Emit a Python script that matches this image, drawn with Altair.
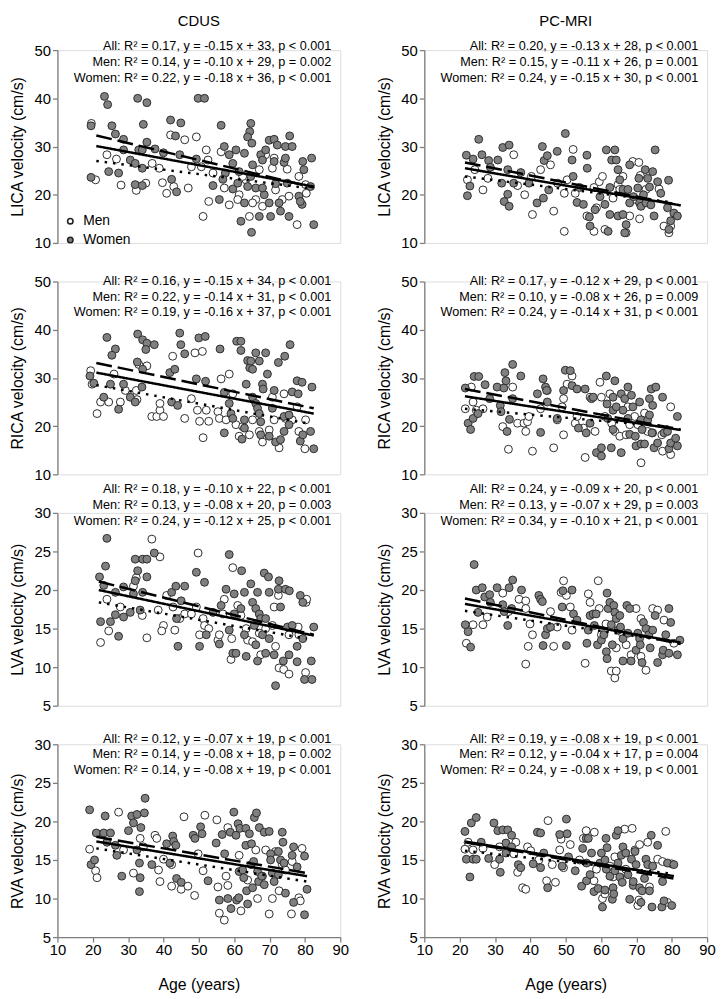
import altair as alt
import pandas as pd

FONT = "Liberation Sans"
W, H = 286, 195

AGE_TICKS = [10, 20, 30, 40, 50, 60, 70, 80, 90]
ICA_TICKS = [10, 20, 30, 40, 50]
VA_TICKS = [5, 10, 15, 20, 25, 30]

# ---------------- CDUS LICA ----------------
CDUS_LICA_MEN = [(19.6,34.8),(20.8,23.1),(24.0,28.3),(26.7,27.4),(28.0,22.0),(32.3,20.9),(35.0,22.4),(36.8,26.5),(38.8,25.5),(39.7,22.5),(40.9,20.3),(42.0,32.4),(42.9,21.7),(46.0,31.4),(47.9,25.8),(47.0,21.4),(49.3,32.0),(50.7,25.8),(51.2,15.5),(52.1,29.3),(52.6,27.2),(52.8,18.6),(54.0,24.5),(56.3,28.9),(57.2,21.4),(58.6,17.9),(61.4,20.0),(63.3,23.1),(64.3,15.5),(66.1,19.0),(68.0,17.6),(68.9,28.3),(70.8,25.5),(71.3,27.6),(73.6,19.0),(75.0,25.3),(75.5,19.7),(77.8,13.8),(80.2,22.1),(80.4,20.3),(78.3,23.8),(65.2,18.3),(67.1,25.2),(62.4,23.8),(71.7,21.0),(61.0,19.0)]
CDUS_LICA_WOMEN = [(19.5,34.3),(23.3,40.4),(24.2,38.7),(25.4,34.3),(26.4,32.6),(28.7,31.5),(28.7,29.3),(19.5,23.6),(24.5,24.8),(27.3,24.5),(30.6,27.2),(32.0,26.5),(32.7,40.0),(35.3,39.1),(34.3,34.6),(35.3,30.9),(33.0,29.3),(34.0,29.3),(32.0,22.1),(34.0,21.9),(34.0,25.5),(37.6,29.5),(40.0,28.7),(42.0,35.5),(43.4,32.2),(44.9,34.9),(44.6,28.3),(43.7,20.6),(42.3,23.2),(49.8,40.0),(51.6,40.0),(49.3,27.4),(54.0,21.9),(55.8,19.0),(56.3,34.4),(57.2,30.0),(57.5,24.5),(56.8,23.2),(58.6,28.3),(59.6,26.5),(60.5,29.3),(59.6,21.2),(61.0,22.4),(61.9,14.5),(62.9,18.3),(63.8,21.7),(64.7,34.8),(64.4,33.1),(63.8,32.0),(65.0,30.7),(65.2,26.2),(64.7,23.8),(64.9,12.2),(66.1,21.4),(67.1,15.5),(67.5,28.3),(68.0,27.2),(68.5,20.0),(69.9,31.3),(69.9,18.3),(70.3,15.5),(71.3,31.5),(71.3,26.9),(71.7,22.3),(72.2,30.3),(72.7,18.3),(73.1,16.6),(74.1,26.7),(74.5,30.0),(74.5,27.6),(75.0,22.4),(75.7,32.2),(76.4,30.0),(75.5,15.5),(78.3,19.7),(79.4,26.9),(79.7,25.2),(79.2,18.0),(81.6,21.7),(81.9,27.6),(82.5,13.8),(78.7,18.6),(68.9,29.3),(68.0,21.4),(62.9,28.6),(61.4,24.8)]
CDUS_LICA_FIT = [("All",21.0,30.1,82.5,21.7),("Men",21.0,27.0,80.6,21.4),("Women",21.0,32.3,82.5,21.5)]
CDUS_LICA_EQ = ["All: R² = 0.17, y = -0.15 x + 33, p < 0.001","Men: R² = 0.14, y = -0.10 x + 29, p = 0.002","Women: R² = 0.22, y = -0.18 x + 36, p < 0.001"]

# ---------------- CDUS RICA ----------------
CDUS_RICA_MEN = [(19.4,31.5),(19.8,28.7),(21.2,22.6),(22.2,25.0),(24.5,25.0),(26.0,30.8),(27.8,25.0),(29.2,27.4),(32.3,27.4),(32.5,25.5),(33.0,32.8),(35.3,32.5),(36.7,22.0),(38.1,22.0),(39.0,23.3),(40.0,22.0),(39.0,24.7),(42.6,34.5),(46.0,21.6),(47.9,25.7),(48.9,35.2),(51.0,35.5),(49.6,23.3),(50.2,21.0),(51.2,17.6),(52.1,23.3),(52.8,21.0),(55.4,23.0),(55.8,21.6),(56.3,29.8),(58.6,30.8),(59.6,26.7),(57.7,21.3),(60.5,20.3),(61.4,17.9),(62.4,19.9),(64.3,18.2),(65.2,21.3),(67.1,18.9),(68.0,16.7),(69.9,19.2),(70.8,26.0),(71.3,21.3),(72.7,15.5),(74.1,26.7),(76.4,21.3),(77.8,24.0),(78.3,18.9),(80.0,15.3),(80.2,21.3),(74.5,21.6)]
CDUS_RICA_WOMEN = [(24.0,38.4),(26.4,36.0),(25.4,34.7),(19.2,30.4),(20.3,28.9),(23.1,26.0),(25.0,28.7),(27.3,23.5),(28.7,28.7),(30.6,26.0),(32.0,25.0),(32.6,33.3),(32.7,39.1),(34.1,37.9),(35.3,37.2),(35.0,35.9),(33.9,28.1),(34.1,31.8),(37.4,36.9),(41.8,31.1),(43.2,31.8),(42.3,25.0),(44.0,24.3),(44.6,39.3),(44.9,36.9),(46.0,35.0),(50.0,38.3),(51.8,38.6),(49.3,29.8),(51.9,29.3),(56.0,36.0),(57.2,18.6),(57.2,27.0),(58.6,24.7),(59.1,22.6),(59.6,21.6),(60.7,37.6),(61.9,37.6),(61.9,35.7),(62.2,17.3),(62.9,21.3),(62.9,19.6),(63.8,33.6),(64.4,32.1),(64.7,33.5),(66.1,35.2),(67.1,33.5),(65.2,31.8),(63.4,28.7),(65.2,26.0),(66.1,24.7),(66.6,23.7),(67.1,22.6),(67.5,20.9),(67.5,18.2),(68.0,28.7),(68.2,27.7),(68.9,35.2),(69.4,30.8),(69.9,17.9),(70.8,23.7),(71.3,27.4),(71.7,16.7),(72.5,33.2),(73.1,17.2),(74.1,18.9),(74.1,22.0),(74.3,34.5),(75.5,22.3),(75.8,36.9),(75.5,20.3),(76.4,27.1),(77.8,29.4),(78.1,26.7),(79.2,29.1),(78.7,16.9),(79.4,18.2),(81.6,18.9),(82.0,28.1),(82.5,15.3)]
CDUS_RICA_FIT = [("All",21.0,31.1,82.5,22.6),("Men",21.0,28.5,80.6,20.6),("Women",21.0,33.1,82.5,23.7)]
CDUS_RICA_EQ = ["All: R² = 0.16, y = -0.15 x + 34, p < 0.001","Men: R² = 0.22, y = -0.14 x + 31, p < 0.001","Women: R² = 0.19, y = -0.16 x + 37, p < 0.001"]

# ---------------- CDUS LVA ----------------
CDUS_LVA_MEN = [(22.2,13.2),(24.0,18.8),(24.5,14.7),(27.8,17.8),(31.5,20.5),(32.3,21.6),(34.0,16.7),(35.3,13.8),(36.7,26.6),(39.0,24.3),(38.5,17.4),(40.0,15.4),(39.5,14.7),(40.9,19.3),(42.7,17.8),(43.2,14.8),(44.6,16.3),(46.0,16.9),(47.9,16.9),(49.3,17.8),(49.8,24.8),(50.2,14.2),(51.2,16.3),(51.6,15.4),(52.8,15.0),(55.4,13.5),(55.8,14.2),(56.8,16.9),(57.2,18.8),(59.1,11.0),(59.3,13.7),(59.6,22.9),(61.0,18.0),(61.9,16.7),(63.4,15.0),(63.8,13.5),(65.2,13.3),(67.1,14.4),(67.5,11.6),(68.9,15.0),(70.8,15.4),(71.3,17.8),(71.7,12.7),(72.5,19.3),(72.7,9.9),(74.0,9.7),(75.5,9.1),(75.5,14.2),(78.1,15.2),(78.3,14.2),(80.3,18.4),(80.5,18.8),(80.2,9.3)]
CDUS_LVA_WOMEN = [(21.9,21.7),(24.0,26.7),(23.6,23.1),(23.1,20.6),(22.2,15.9),(25.0,15.9),(26.4,19.7),(27.3,14.0),(26.4,16.8),(28.7,20.4),(28.7,16.5),(30.6,17.1),(32.0,24.0),(32.7,22.5),(32.0,21.2),(31.5,19.5),(34.1,24.0),(35.3,24.0),(35.3,21.7),(34.1,19.7),(33.4,17.4),(37.4,24.8),(42.3,19.7),(43.5,20.5),(46.0,20.5),(44.1,12.7),(45.0,18.6),(43.7,16.3),(49.3,22.3),(51.6,21.0),(50.2,12.7),(52.1,14.2),(54.0,17.1),(55.8,13.0),(56.3,18.0),(57.7,20.1),(58.6,24.6),(58.6,14.8),(59.6,11.8),(60.5,11.8),(60.0,19.5),(60.0,16.9),(62.1,22.5),(62.9,19.7),(61.9,17.6),(62.9,14.2),(63.4,11.4),(64.7,20.8),(65.2,18.4),(66.6,19.7),(66.1,17.6),(65.7,15.4),(66.1,12.9),(67.1,16.9),(67.5,16.3),(68.0,14.2),(68.5,22.2),(69.7,21.7),(68.9,16.3),(69.9,13.7),(69.9,19.7),(66.6,10.8),(68.9,11.8),(71.3,11.6),(71.7,7.6),(72.7,21.2),(72.5,20.1),(73.1,17.8),(74.5,20.1),(75.1,15.2),(75.6,19.9),(73.9,10.8),(75.5,11.6),(76.4,15.4),(77.8,12.7),(77.8,10.7),(78.7,19.3),(79.4,18.4),(79.4,13.7),(79.9,8.4),(82.0,8.4),(81.8,10.8),(82.5,15.2)]
CDUS_LVA_FIT = [("All",21.7,20.0,82.5,14.1),("Men",21.7,18.4,80.6,13.7),("Women",21.7,21.1,82.5,14.2)]
CDUS_LVA_EQ = ["All: R² = 0.18, y = -0.10 x + 22, p < 0.001","Men: R² = 0.13, y = -0.08 x + 20, p = 0.003","Women: R² = 0.24, y = -0.12 x + 25, p < 0.001"]

# ---------------- CDUS RVA ----------------
CDUS_RVA_MEN = [(19.1,16.4),(20.8,13.6),(21.2,12.7),(27.3,21.2),(28.7,16.3),(31.5,13.3),(33.4,17.8),(34.3,16.7),(37.6,18.2),(38.1,17.8),(38.6,13.7),(39.0,12.2),(40.0,15.1),(42.3,14.4),(42.3,11.6),(45.0,11.2),(45.8,20.6),(46.9,11.6),(48.8,10.4),(49.8,15.8),(51.2,13.6),(51.7,20.8),(55.1,20.2),(55.4,11.5),(55.8,8.1),(57.2,7.2),(57.7,12.9),(58.2,11.7),(58.2,19.2),(61.4,15.6),(61.9,8.4),(63.8,12.4),(66.1,16.3),(66.6,10.0),(68.0,12.9),(68.9,16.3),(69.9,8.0),(70.8,10.0),(71.7,16.1),(72.7,11.0),(73.6,14.4),(74.5,13.7),(76.2,8.0),(76.4,14.8),(78.3,10.1),(78.7,9.7),(79.2,16.5)]
CDUS_RVA_WOMEN = [(19.1,21.5),(19.5,14.4),(20.5,15.0),(21.0,18.5),(23.5,20.7),(23.1,18.5),(25.0,18.5),(24.0,17.3),(26.4,16.9),(26.8,15.6),(28.2,12.9),(30.1,18.8),(31.0,20.7),(31.5,19.8),(32.5,20.9),(32.5,16.3),(33.2,14.6),(33.4,12.7),(33.2,10.9),(33.6,19.2),(34.8,23.0),(34.6,21.1),(36.7,14.4),(40.9,17.1),(41.8,14.6),(42.6,18.1),(42.9,17.4),(43.5,16.9),(43.7,12.6),(45.0,12.1),(48.4,18.2),(48.9,17.8),(50.5,19.3),(50.9,18.4),(52.6,12.3),(54.9,17.2),(55.8,9.8),(56.6,18.3),(57.3,15.8),(58.2,10.0),(58.9,18.6),(59.1,8.7),(59.9,21.2),(60.5,18.2),(60.7,9.8),(61.1,19.7),(61.3,10.1),(61.6,19.1),(61.4,13.5),(62.4,13.7),(62.7,12.7),(63.3,19.1),(63.3,16.9),(63.5,11.0),(63.8,9.3),(64.3,18.4),(64.8,14.4),(64.9,17.1),(65.2,11.4),(65.5,14.8),(65.7,20.5),(66.3,21.1),(66.6,13.5),(66.9,12.2),(67.1,19.2),(67.8,12.9),(68.5,18.6),(68.5,11.8),(69.9,18.7),(70.3,15.8),(70.3,15.0),(70.8,13.3),(71.3,12.2),(72.5,16.1),(72.5,13.1),(73.1,15.0),(73.6,18.6),(73.8,17.3),(74.1,14.6),(74.5,10.7),(76.4,15.6),(76.8,16.7),(76.8,9.5),(77.8,14.1),(79.9,15.5),(79.9,7.9),(80.6,11.2)]
CDUS_RVA_FIT = [("All",21.0,17.4,80.6,12.9),("Men",21.0,16.5,80.6,12.2),("Women",21.0,18.0,80.6,13.3)]
CDUS_RVA_EQ = ["All: R² = 0.12, y = -0.07 x + 19, p < 0.001","Men: R² = 0.14, y = -0.08 x + 18, p = 0.002","Women: R² = 0.14, y = -0.08 x + 19, p < 0.001"]

# ---------------- PC-MRI LICA ----------------
PCMRI_LICA_MEN = [(22.2,23.1),(24.3,25.2),(26.6,21.0),(28.0,23.4),(35.3,28.3),(36.4,21.9),(38.4,20.0),(40.3,23.8),(40.6,15.9),(42.9,25.2),(45.7,26.2),(46.6,16.6),(47.7,22.4),(49.6,20.3),(49.6,12.4),(50.4,23.1),(52.1,29.4),(52.7,20.3),(56.0,15.6),(58.0,21.5),(58.0,12.4),(58.7,17.3),(59.5,22.7),(60.4,23.8),(61.1,12.8),(63.4,19.3),(64.8,22.1),(65.3,21.1),(66.2,23.8),(67.1,12.1),(68.1,15.6),(69.0,26.9),(70.7,26.7),(69.9,19.0),(70.9,15.0),(71.1,24.0),(71.8,18.3),(72.7,21.1),(76.4,21.2),(77.8,13.5),(79.2,12.1),(79.7,13.5)]
PCMRI_LICA_WOMEN = [(22.2,19.8),(21.9,28.2),(22.9,21.8),(23.8,27.4),(25.4,31.5),(26.3,28.3),(28.2,27.1),(28.7,25.7),(30.8,27.2),(32.2,29.8),(34.0,30.3),(32.6,18.6),(34.0,17.6),(33.6,20.1),(33.6,25.2),(31.9,22.4),(35.3,22.4),(37.3,24.6),(39.6,22.4),(41.9,18.3),(43.4,30.0),(43.7,19.3),(43.9,27.1),(44.8,28.1),(45.2,21.0),(47.6,29.0),(49.9,32.7),(51.8,27.2),(52.1,23.8),(53.2,18.4),(53.9,21.5),(55.0,18.0),(56.0,28.2),(56.1,25.5),(56.7,15.4),(56.9,13.5),(58.3,16.9),(59.7,19.6),(61.1,18.0),(61.5,29.3),(62.0,12.4),(62.5,21.5),(62.5,15.9),(63.0,27.2),(63.9,29.3),(64.3,27.2),(64.8,25.2),(64.8,15.6),(65.3,23.1),(66.2,21.1),(66.2,15.9),(66.7,12.1),(67.1,13.8),(67.6,21.1),(68.1,26.2),(68.1,18.3),(69.2,19.6),(70.4,21.4),(70.7,23.4),(70.9,18.3),(71.3,17.6),(72.0,20.0),(72.5,25.2),(72.7,18.3),(73.2,23.4),(73.7,21.6),(74.1,17.9),(74.6,24.8),(75.3,29.3),(76.0,22.7),(75.0,15.6),(76.9,20.3),(78.8,17.3),(79.1,23.0),(79.2,12.8),(79.7,14.6),(80.6,16.2),(81.6,15.6)]
PCMRI_LICA_FIT = [("All",21.5,25.5,82.5,17.8),("Men",21.5,23.8,79.2,18.5),("Women",21.5,26.7,82.5,17.8)]
PCMRI_LICA_EQ = ["All: R² = 0.20, y = -0.13 x + 28, p < 0.001","Men: R² = 0.15, y = -0.11 x + 26, p = 0.001","Women: R² = 0.24, y = -0.15 x + 30, p < 0.001"]

# ---------------- PC-MRI RICA ----------------
PCMRI_RICA_MEN = [(21.6,23.6),(23.3,28.1),(23.8,25.0),(24.7,23.3),(26.6,23.6),(32.2,19.9),(33.8,15.2),(35.0,28.1),(36.4,20.6),(38.2,20.6),(38.7,18.9),(39.2,20.9),(39.6,22.0),(40.6,14.8),(42.9,23.6),(44.8,27.4),(46.6,15.5),(47.6,21.3),(49.0,24.0),(49.4,25.7),(49.4,18.2),(50.4,28.7),(51.8,30.4),(52.7,20.6),(53.2,22.0),(55.0,19.6),(55.5,13.5),(56.9,26.0),(58.3,18.9),(59.7,29.1),(60.1,26.0),(61.1,22.0),(62.5,26.7),(63.0,20.6),(63.9,18.9),(65.3,17.9),(67.1,18.2),(67.6,24.0),(68.1,20.3),(69.5,22.0),(70.4,20.3),(71.3,12.4),(72.3,22.7),(73.2,18.9),(74.6,18.6),(77.2,18.2),(77.4,14.8),(79.7,24.0),(79.7,14.1)]
PCMRI_RICA_WOMEN = [(21.6,27.9),(22.4,20.6),(23.1,19.3),(23.8,21.6),(24.1,30.3),(25.4,30.3),(25.2,22.6),(27.2,28.6),(28.5,25.7),(30.6,28.1),(32.5,27.9),(32.8,31.1),(33.1,29.4),(31.5,24.3),(31.7,23.0),(33.4,18.9),(34.1,21.4),(35.0,32.8),(35.0,25.7),(37.3,30.4),(42.0,26.7),(42.9,18.7),(43.6,29.8),(44.3,28.1),(44.6,27.4),(44.8,25.0),(47.6,21.6),(49.4,27.4),(49.9,31.6),(51.3,31.5),(51.8,28.4),(53.2,27.7),(53.6,19.6),(55.5,27.7),(55.8,18.6),(56.9,20.6),(57.3,25.7),(57.8,26.0),(58.7,14.5),(60.1,13.8),(60.1,15.5),(61.5,30.4),(61.7,24.6),(61.9,21.6),(62.9,15.5),(63.4,26.0),(63.4,23.3),(63.4,19.3),(63.9,29.4),(64.3,24.0),(65.7,26.7),(65.7,14.5),(66.2,23.3),(66.7,25.7),(67.6,28.1),(67.6,21.6),(68.1,18.3),(68.6,26.4),(69.0,24.0),(69.7,17.9),(69.9,15.9),(70.9,25.0),(71.3,21.3),(71.3,16.3),(71.6,19.3),(72.3,16.3),(73.2,21.3),(73.7,22.3),(73.7,25.7),(74.2,27.7),(74.4,18.6),(74.6,24.3),(75.5,28.1),(75.0,15.5),(76.0,16.5),(77.4,26.0),(77.8,18.6),(78.8,18.9),(79.2,15.3),(79.7,16.5),(81.6,22.0),(81.6,15.9),(81.1,17.5)]
PCMRI_RICA_FIT = [("All",21.5,26.2,82.5,19.2),("Men",21.5,23.6,80.0,19.8),("Women",21.5,27.7,82.5,19.3)]
PCMRI_RICA_EQ = ["All: R² = 0.17, y = -0.12 x + 29, p < 0.001","Men: R² = 0.10, y = -0.08 x + 26, p = 0.009","Women: R² = 0.24, y = -0.14 x + 31, p < 0.001"]

# ---------------- PC-MRI LVA ----------------
PCMRI_LVA_MEN = [(21.9,13.1),(23.8,15.5),(26.6,15.5),(27.8,16.5),(32.2,19.6),(33.8,17.2),(36.8,18.8),(38.7,18.6),(38.7,17.6),(38.7,10.4),(39.4,12.7),(39.9,15.6),(40.6,14.2),(45.7,17.2),(46.6,12.7),(47.6,15.2),(48.7,19.7),(49.4,21.2),(50.2,19.3),(51.3,17.8),(51.8,14.8),(55.5,10.5),(56.4,19.5),(56.9,18.4),(59.2,21.2),(59.5,17.6),(60.1,14.2),(61.4,15.6),(62.9,9.5),(63.9,8.6),(64.3,9.5),(64.3,12.5),(65.7,14.6),(67.1,12.9),(68.5,11.6),(69.9,17.6),(71.3,16.3),(71.3,11.4),(72.7,9.6),(73.7,14.8),(74.6,17.6),(76.0,17.4),(77.8,16.1),(80.6,13.1)]
PCMRI_LVA_WOMEN = [(21.6,15.5),(22.4,14.6),(23.1,12.6),(24.1,23.3),(24.7,20.0),(25.2,17.1),(26.4,20.3),(27.1,19.1),(28.5,19.4),(28.7,18.4),(30.6,20.3),(32.2,18.1),(32.6,17.2),(33.6,15.4),(34.0,20.3),(34.7,17.6),(35.0,21.3),(37.5,20.0),(42.4,19.3),(42.9,18.8),(43.4,18.5),(44.3,14.2),(44.8,15.0),(43.6,12.8),(45.7,15.2),(49.0,17.8),(49.2,19.9),(50.2,12.8),(51.8,20.0),(52.2,16.9),(53.2,16.1),(56.0,13.1),(56.4,14.8),(56.9,16.7),(57.8,16.9),(58.1,15.4),(58.6,16.9),(59.0,12.9),(60.1,13.5),(60.8,14.2),(61.7,19.6),(61.5,12.0),(61.7,11.1),(62.0,17.6),(62.5,18.4),(62.9,15.5),(63.2,12.9),(63.6,18.0),(63.9,17.1),(64.3,16.3),(64.8,14.8),(65.3,16.7),(65.5,15.2),(66.2,13.7),(66.2,10.8),(67.3,18.0),(67.6,14.4),(68.1,17.6),(68.5,10.8),(69.9,12.2),(70.4,14.4),(70.9,13.7),(71.1,12.9),(71.6,10.6),(72.0,15.8),(72.7,15.0),(73.5,14.2),(73.9,12.5),(74.6,14.8),(75.3,16.7),(76.0,10.6),(77.4,11.6),(77.6,12.2),(78.3,14.2),(79.2,17.6),(79.7,15.8),(79.2,11.8),(81.6,11.6),(82.3,13.5)]
PCMRI_LVA_FIT = [("All",21.5,18.2,82.5,13.2),("Men",21.5,17.3,80.6,13.3),("Women",21.5,18.9,82.5,13.0)]
PCMRI_LVA_EQ = ["All: R² = 0.24, y = -0.09 x + 20, p < 0.001","Men: R² = 0.13, y = -0.07 x + 29, p = 0.003","Women: R² = 0.34, y = -0.10 x + 21, p < 0.001"]

# ---------------- PC-MRI RVA ----------------
PCMRI_RVA_MEN = [(21.5,16.4),(22.4,17.3),(23.8,16.3),(26.6,16.5),(29.9,14.4),(31.3,16.7),(35.3,15.8),(35.9,17.3),(36.4,13.4),(37.8,11.4),(38.7,11.2),(39.2,16.7),(40.1,16.2),(42.4,15.0),(44.6,12.3),(45.0,20.1),(46.2,14.4),(47.1,12.1),(48.3,16.3),(48.7,17.7),(49.4,14.0),(51.3,17.0),(53.9,15.0),(55.0,17.8),(55.8,18.8),(58.1,18.6),(58.0,12.3),(58.7,13.8),(60.4,10.0),(61.1,10.6),(62.5,14.2),(63.4,12.8),(63.9,15.4),(65.7,13.4),(66.7,19.0),(67.0,13.8),(68.8,19.1),(69.6,16.3),(70.4,9.1),(70.7,9.8),(70.9,17.0),(73.2,17.3),(73.7,11.5),(76.0,15.1),(77.4,14.8),(78.3,18.7),(78.8,9.5),(80.0,14.5)]
PCMRI_RVA_WOMEN = [(21.5,18.7),(21.9,15.1),(22.9,12.8),(23.3,19.8),(23.8,15.1),(24.7,20.5),(24.7,15.1),(26.1,17.3),(28.2,15.2),(29.7,19.8),(30.8,18.8),(31.3,15.1),(31.5,13.4),(32.2,18.9),(33.1,17.2),(33.1,15.9),(33.6,18.9),(34.7,18.2),(34.7,16.7),(36.6,14.4),(37.3,14.0),(40.8,14.5),(42.0,18.6),(42.9,18.5),(42.9,14.0),(43.8,15.9),(44.9,11.4),(48.3,18.3),(49.0,14.2),(50.2,20.3),(50.4,18.4),(50.8,15.4),(52.7,13.6),(54.5,11.6),(54.8,16.5),(55.8,17.8),(55.9,14.6),(55.9,12.3),(56.4,17.8),(56.9,13.1),(57.3,15.9),(58.0,10.9),(59.2,11.3),(59.7,14.6),(60.1,15.9),(60.4,8.9),(61.1,15.0),(61.1,11.1),(61.4,17.8),(61.5,13.8),(61.7,16.6),(62.5,12.9),(63.2,9.9),(63.4,11.4),(63.6,10.6),(63.9,13.6),(64.3,18.2),(64.8,18.8),(64.8,14.6),(65.3,12.8),(65.7,15.6),(66.0,12.1),(66.2,16.7),(67.0,15.9),(67.6,13.1),(68.1,9.9),(68.6,15.1),(69.1,11.7),(69.1,12.2),(69.6,16.1),(69.9,14.4),(70.9,11.4),(71.3,9.5),(71.6,11.0),(72.3,12.6),(72.7,15.1),(73.2,14.4),(73.7,11.0),(74.2,18.2),(74.4,8.9),(74.6,14.2),(76.0,16.9),(77.4,12.2),(77.2,8.9),(77.8,9.7),(78.8,14.6),(80.0,9.1),(80.6,14.4)]
PCMRI_RVA_FIT = [("All",21.5,17.4,80.6,12.9),("Men",21.5,16.2,80.6,13.2),("Women",21.5,17.3,80.6,12.6)]
PCMRI_RVA_EQ = ["All: R² = 0.19, y = -0.08 x + 19, p < 0.001","Men: R² = 0.12, y = -0.04 x + 17, p = 0.004","Women: R² = 0.24, y = -0.08 x + 19, p < 0.001"]

COL_TITLES = ["CDUS", "PC-MRI"]
SEX = ["Men", "Women"]
SEX_FILL = ["#ffffff", "#808080"]
FIT_GROUPS = ["All", "Men", "Women"]

# equation text vertical offsets (px from plot top) per row
EQ_Y = {"LICA": [-4, 12, 28], "RICA": [0, 16, 31], "LVA": [-24, -8, 8], "RVA": [-5, 10, 26]}

GRID = [
    ("LICA", CDUS_LICA_MEN, CDUS_LICA_WOMEN, CDUS_LICA_FIT, CDUS_LICA_EQ, PCMRI_LICA_MEN, PCMRI_LICA_WOMEN, PCMRI_LICA_FIT, PCMRI_LICA_EQ),
    ("RICA", CDUS_RICA_MEN, CDUS_RICA_WOMEN, CDUS_RICA_FIT, CDUS_RICA_EQ, PCMRI_RICA_MEN, PCMRI_RICA_WOMEN, PCMRI_RICA_FIT, PCMRI_RICA_EQ),
    ("LVA", CDUS_LVA_MEN, CDUS_LVA_WOMEN, CDUS_LVA_FIT, CDUS_LVA_EQ, PCMRI_LVA_MEN, PCMRI_LVA_WOMEN, PCMRI_LVA_FIT, PCMRI_LVA_EQ),
    ("RVA", CDUS_RVA_MEN, CDUS_RVA_WOMEN, CDUS_RVA_FIT, CDUS_RVA_EQ, PCMRI_RVA_MEN, PCMRI_RVA_WOMEN, PCMRI_RVA_FIT, PCMRI_RVA_EQ),
]

AX_COLOR = "#7f7f7f"


def text_layer(txt, x, y, size, align="left"):
    return alt.Chart(pd.DataFrame({"t": [txt]})).mark_text(
        align=align, baseline="middle", font=FONT, fontSize=size, color="black"
    ).encode(text="t:N", x=alt.value(x), y=alt.value(y))


def panel(vessel, men, women, fit, eqs, title=None, legend=False, xaxis=False):
    pts = pd.DataFrame(
        [{"age": a, "vel": v, "sex": "Men"} for a, v in men]
        + [{"age": a, "vel": v, "sex": "Women"} for a, v in women]
    )
    ica = vessel in ("LICA", "RICA")
    ydom = [10, 50] if ica else [5, 30]
    yticks = ICA_TICKS if ica else VA_TICKS
    xs = alt.Scale(domain=[10, 90], nice=False, zero=False)
    ys = alt.Scale(domain=ydom, nice=False, zero=False)
    yax = alt.Axis(values=yticks, title=f"{vessel} velocity (cm/s)", grid=False,
                   tickSize=5, tickColor=AX_COLOR, domainColor=AX_COLOR,
                   domainWidth=1.3, tickWidth=1.3,
                   labelFont=FONT, labelFontSize=15, labelColor="black", labelPadding=2,
                   titleFont=FONT, titleFontSize=16, titleFontWeight="normal",
                   titleColor="black", titlePadding=9)
    if xaxis:
        xax = alt.Axis(values=AGE_TICKS, title="Age (years)", grid=False,
                       tickSize=5, tickColor=AX_COLOR, domainColor=AX_COLOR,
                       domainWidth=1.3, tickWidth=1.3,
                       labelFont=FONT, labelFontSize=15, labelColor="black", labelPadding=1,
                       labelFlush=False,
                       titleFont=FONT, titleFontSize=16, titleFontWeight="normal",
                       titleColor="black", titlePadding=19)
    else:
        xax = None

    points = alt.Chart(pts).mark_circle(size=64, stroke="#2e2e2e", strokeWidth=1, opacity=1).encode(
        x=alt.X("age:Q", scale=xs, axis=xax),
        y=alt.Y("vel:Q", scale=ys, axis=yax),
        fill=alt.Fill("sex:N", scale=alt.Scale(domain=SEX, range=SEX_FILL), legend=None),
    )

    rows = []
    for g, x0, y0, x1, y1 in fit:
        rows.append({"group": g, "age": x0, "vel": y0})
        rows.append({"group": g, "age": x1, "vel": y1})
    lines = alt.Chart(pd.DataFrame(rows)).mark_line(color="black", strokeWidth=2.5, strokeCap="butt").encode(
        x=alt.X("age:Q", scale=xs, axis=xax),
        y=alt.Y("vel:Q", scale=ys, axis=yax),
        detail="group:N",
        strokeDash=alt.StrokeDash("group:N", scale=alt.Scale(domain=FIT_GROUPS, range=[[1, 0], [2.5, 6], [16, 6]]), legend=None),
    )

    layers = [points, lines]
    for txt, yy in zip(eqs, EQ_Y[vessel]):
        layers.append(text_layer(txt, W - 9, yy, 12.8, align="right"))
    if title:
        layers.append(text_layer(title, W / 2, -29, 15, align="center"))
    if legend:
        for lab, col, yy in zip(SEX, SEX_FILL, [173, 192]):
            layers.append(
                alt.Chart(pd.DataFrame({"s": [lab]})).mark_circle(
                    size=30, stroke="#222222", strokeWidth=1.6, opacity=1, fill=col
                ).encode(x=alt.value(13), y=alt.value(yy))
            )
            layers.append(text_layer(lab, 26, yy, 14))
    return alt.layer(*layers).properties(width=W, height=H)


charts = []
for i, (vessel, cm, cw, cf, ce, pm, pw, pf, pe) in enumerate(GRID):
    first = i == 0
    last = i == len(GRID) - 1
    charts.append(panel(vessel, cm, cw, cf, ce, title=COL_TITLES[0] if first else None, legend=first, xaxis=last))
    charts.append(panel(vessel, pm, pw, pf, pe, title=COL_TITLES[1] if first else None, xaxis=last))

chart = alt.concat(*charts, columns=2, spacing={"row": 39, "column": 85}, bounds="flush").properties(
    padding=0
).configure_view(stroke=None).configure(font=FONT)

chart.save("out.html", embed_options={"renderer": "svg", "actions": False})
